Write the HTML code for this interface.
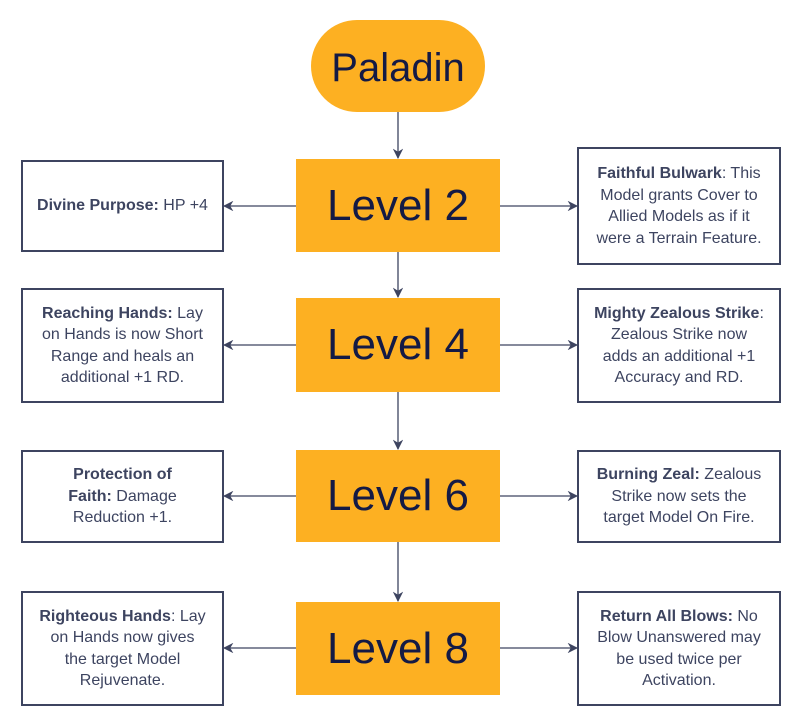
<!DOCTYPE html>
<html><head><meta charset="utf-8"><style>
body{margin:0;width:800px;height:725px;background:#fff;position:relative;overflow:hidden;font-family:"Liberation Sans",sans-serif}
.b{position:absolute;box-sizing:border-box;border:2px solid #3d4460;background:#fff;color:#3d4460;font-size:16px;line-height:21.5px;text-align:center;display:flex;align-items:center;justify-content:center;padding:0 4px}
.b b{font-weight:bold}
.l{position:absolute;background:#fdb022;color:#141a45;font-size:44px;display:flex;align-items:center;justify-content:center;left:296px;width:204px}
svg{position:absolute;left:0;top:0}
</style></head><body>
<svg width="800" height="725">
<defs><marker id="a" viewBox="0 0 10 10" refX="9" refY="5" markerWidth="8" markerHeight="8" orient="auto"><path d="M0,0 L10,5 L0,10 L3,5z" fill="#3d4460"/></marker></defs>
<g stroke="#3d4460" stroke-width="1.3" fill="none">
<line x1="398" y1="112" x2="398" y2="158" marker-end="url(#a)"/>
<line x1="398" y1="252" x2="398" y2="297" marker-end="url(#a)"/>
<line x1="398" y1="392" x2="398" y2="449" marker-end="url(#a)"/>
<line x1="398" y1="542" x2="398" y2="601" marker-end="url(#a)"/>
<line x1="296" y1="206" x2="224" y2="206" marker-end="url(#a)"/>
<line x1="500" y1="206" x2="577" y2="206" marker-end="url(#a)"/>
<line x1="296" y1="345" x2="224" y2="345" marker-end="url(#a)"/>
<line x1="500" y1="345" x2="577" y2="345" marker-end="url(#a)"/>
<line x1="296" y1="496" x2="224" y2="496" marker-end="url(#a)"/>
<line x1="500" y1="496" x2="577" y2="496" marker-end="url(#a)"/>
<line x1="296" y1="648" x2="224" y2="648" marker-end="url(#a)"/>
<line x1="500" y1="648" x2="577" y2="648" marker-end="url(#a)"/>
</g>
<rect x="311" y="20" width="174" height="92" rx="46" fill="#fdb022"/>
<text x="398" y="81" text-anchor="middle" font-family="Liberation Sans, sans-serif" font-size="40" fill="#141a45">Paladin</text>
</svg>
<div class="l" style="top:159px;height:93px">Level 2</div>
<div class="l" style="top:298px;height:94px">Level 4</div>
<div class="l" style="top:450px;height:92px">Level 6</div>
<div class="l" style="top:602px;height:93px">Level 8</div>

<div class="b" style="left:21px;top:160px;width:203px;height:92px"><span><b>Divine Purpose:</b> HP +4</span></div>
<div class="b" style="left:21px;top:288px;width:203px;height:115px"><span><b>Reaching Hands:</b> Lay<br>on Hands is now Short<br>Range and heals an<br>additional +1 RD.</span></div>
<div class="b" style="left:21px;top:450px;width:203px;height:93px"><span><b>Protection of<br>Faith:</b> Damage<br>Reduction +1.</span></div>
<div class="b" style="left:21px;top:591px;width:203px;height:115px"><span><b>Righteous Hands</b>: Lay<br>on Hands now gives<br>the target Model<br>Rejuvenate.</span></div>

<div class="b" style="left:577px;top:147px;width:204px;height:118px"><span><b>Faithful Bulwark</b>: This<br>Model grants Cover to<br>Allied Models as if it<br>were a Terrain Feature.</span></div>
<div class="b" style="left:577px;top:288px;width:204px;height:115px"><span><b>Mighty Zealous Strike</b>:<br>Zealous Strike now<br>adds an additional +1<br>Accuracy and RD.</span></div>
<div class="b" style="left:577px;top:450px;width:204px;height:93px"><span><b>Burning Zeal:</b> Zealous<br>Strike now sets the<br>target Model On Fire.</span></div>
<div class="b" style="left:577px;top:591px;width:204px;height:115px"><span><b>Return All Blows:</b> No<br>Blow Unanswered may<br>be used twice per<br>Activation.</span></div>
</body></html>
